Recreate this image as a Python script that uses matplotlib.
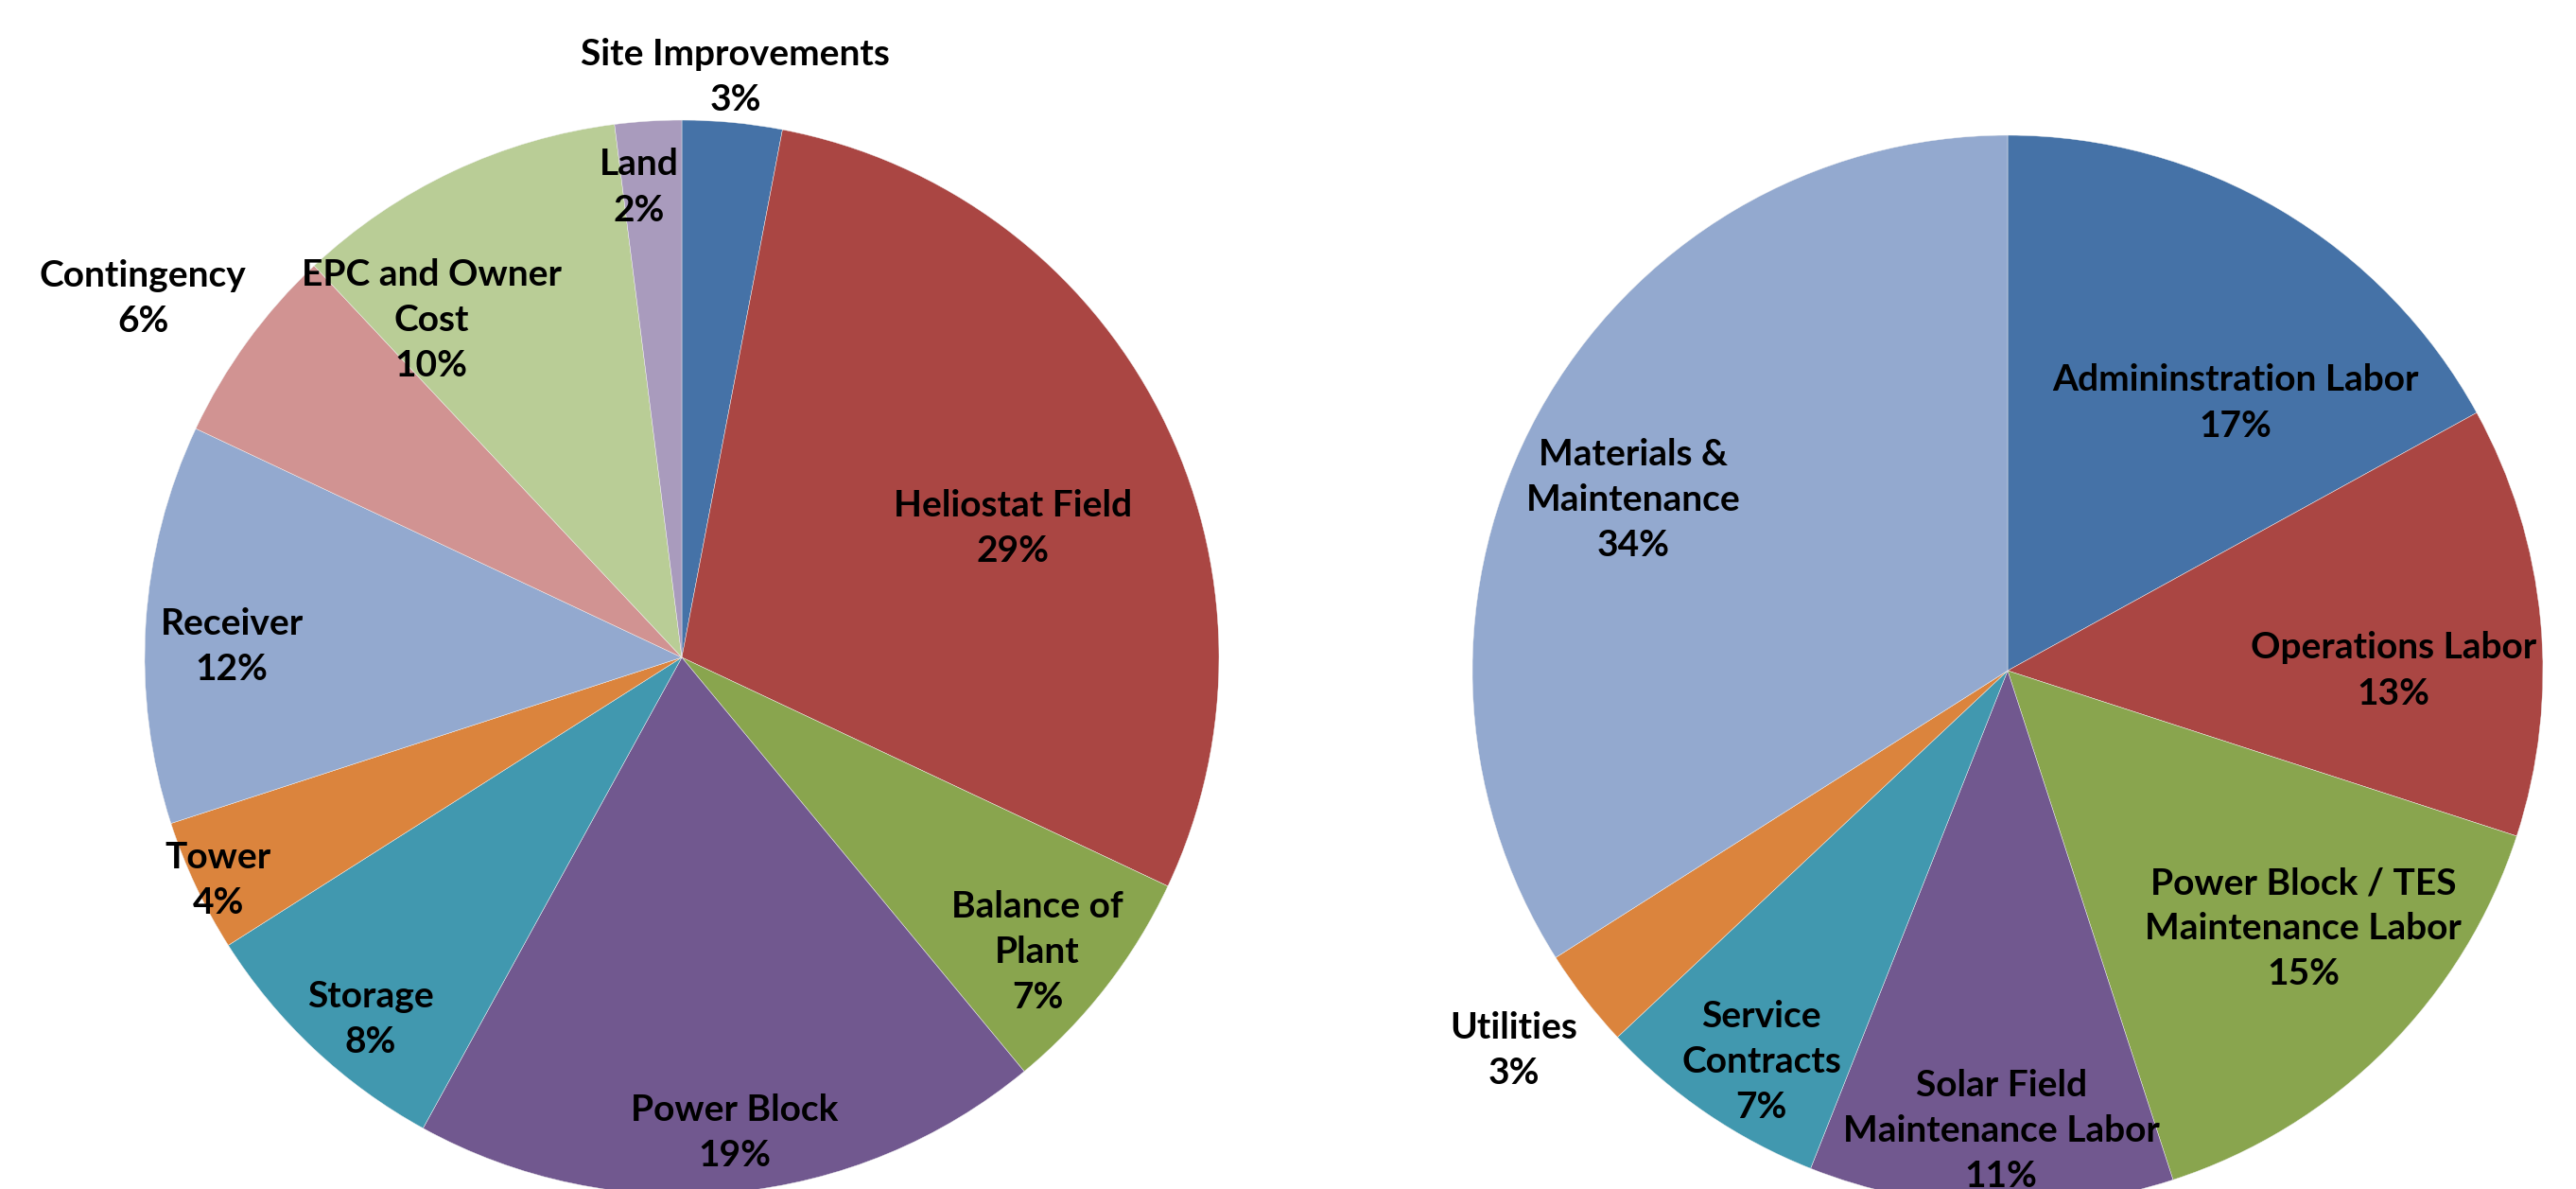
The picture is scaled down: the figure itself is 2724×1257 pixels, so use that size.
import matplotlib.pyplot as plt

# capital cost breakdown (left pie)
capex_labels = ["Site Improvements", "Heliostat Field", "Balance of\nPlant", "Power Block",
                "Storage", "Tower", "Receiver", "Contingency", "EPC and Owner\nCost", "Land"]
capex_values = [3, 29, 7, 19, 8, 4, 12, 6, 10, 2]

# O&M cost breakdown (right pie)
om_labels = ["Admininstration Labor", "Operations Labor", "Power Block / TES\nMaintenance Labor",
             "Solar Field\nMaintenance Labor", "Service\nContracts", "Utilities",
             "Materials &\nMaintenance"]
om_values = [17, 13, 15, 11, 7, 3, 34]

PALETTE = ["#4572A7", "#AA4643", "#89A54E", "#71588F", "#4198AF",
           "#DB843D", "#93A9CF", "#D19392", "#B9CD96", "#A99BBD"]

# label centres, relative to pie centre in units of radius
capex_label_pos = [(0.10, 1.08), (0.616, 0.241), (0.662, -0.549), (0.098, -0.884),
                   (-0.579, -0.674), (-0.863, -0.415), (-0.838, 0.021), (-1.003, 0.668),
                   (-0.466, 0.628), (-0.079, 0.875)]
om_label_pos = [(0.426, 0.500), (0.721, 0.0), (0.552, -0.482), (-0.012, -0.859),
                (-0.460, -0.730), (-0.923, -0.709), (-0.699, 0.319)]

W, H = 2724, 1257
fig = plt.figure(figsize=(W / 100, H / 100), dpi=100)
ax = fig.add_axes([0, 0, 1, 1])

FONT = dict(family=["Lato", "DejaVu Sans"], fontweight="bold", fontsize=28,
            ha="center", va="center", linespacing=1.45)


def draw_pie(values, labels, positions, center, radius):
    ax.pie(values, colors=PALETTE[:len(values)], startangle=90, counterclock=False,
           center=center, radius=radius,
           wedgeprops=dict(edgecolor="#f4f4f4", linewidth=0.3))
    for lab, val, (dx, dy) in zip(labels, values, positions):
        ax.text(center[0] + dx * radius, center[1] + dy * radius,
                f"{lab}\n{val}%", **FONT)


draw_pie(capex_values, capex_labels, capex_label_pos, (721, H - 695), 568)
draw_pie(om_values, om_labels, om_label_pos, (2123, H - 709), 566)

ax.set_xlim(0, W)
ax.set_ylim(0, H)
ax.set_aspect("equal")
ax.axis("off")

fig.savefig("out.png", dpi=100, facecolor="white")
